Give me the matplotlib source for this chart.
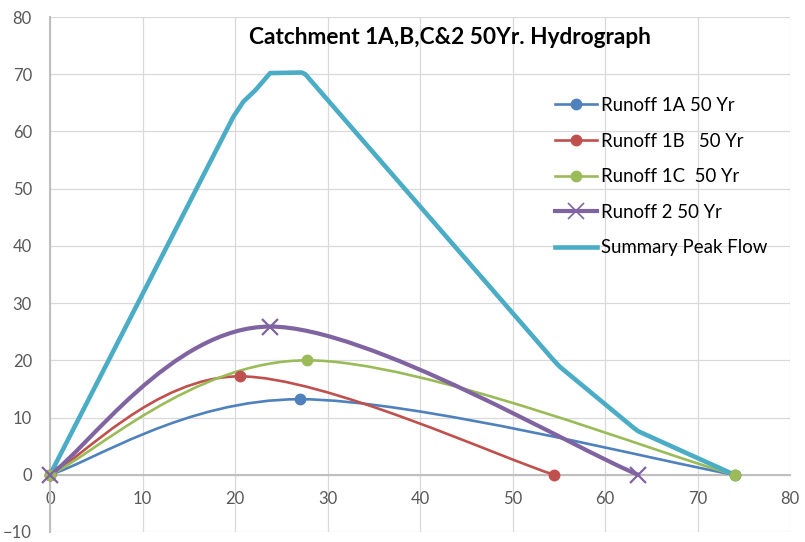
import numpy as np
import matplotlib
matplotlib.use("Agg")
import matplotlib.pyplot as plt
from matplotlib.path import Path
from matplotlib.patches import PathPatch
from matplotlib.lines import Line2D

plt.rcParams['font.family'] = ['Lato', 'DejaVu Sans']

# series (time, flow)
x_1a = [0, 27.0, 74.0]
y_1a = [0, 13.2, 0]
x_1b = [0, 20.5, 54.5]
y_1b = [0, 17.2, 0]
x_1c = [0, 27.8, 74.0]
y_1c = [0, 20.0, 0]
x_2 = [0, 23.8, 63.6]
y_2 = [0, 25.9, 0]
x_sum = [0, 19.8, 20.9, 22.2, 23.8, 27.2, 27.6, 54.4, 55.1, 63.1, 63.6, 74.0]
y_sum = [0, 62.5, 65.2, 67.2, 70.2, 70.3, 70.0, 20.1, 18.9, 8.2, 7.6, 0]

labels = ['Runoff 1A 50 Yr', 'Runoff 1B   50 Yr', 'Runoff 1C  50 Yr',
          'Runoff 2 50 Yr', 'Summary Peak Flow']
colors = ['#4F81BD', '#C0504D', '#9BBB59', '#8064A2', '#4BACC6']
title = 'Catchment 1A,B,C&2 50Yr. Hydrograph'


def smooth_path(xs, ys):
    # excel-like smoothed line: bezier segments through the points
    p = np.column_stack([xs, ys]).astype(float)
    n = len(p)
    verts = [p[0]]
    codes = [Path.MOVETO]
    for i in range(n - 1):
        p0 = p[i - 1] if i > 0 else p[i]
        p3 = p[i + 2] if i + 2 < n else p[i + 1]
        c1 = p[i] + (p[i + 1] - p0) / 6
        c2 = p[i + 1] - (p3 - p[i]) / 6
        verts += [c1, c2, p[i + 1]]
        codes += [Path.CURVE4] * 3
    return Path(verts, codes)


fig = plt.figure(figsize=(8.05, 5.42), dpi=100)
ax = fig.add_axes([50 / 805, 10 / 542, 740 / 805, 515 / 542])
ax.set_xlim(0, 80)
ax.set_ylim(-10, 80)
ax.set_xticks(range(0, 81, 10))
ax.set_yticks(range(-10, 81, 10))
ax.grid(True, color='#d9d9d9', lw=0.9)
ax.set_axisbelow(True)

for s in ['top', 'right']:
    ax.spines[s].set_visible(False)
ax.spines['bottom'].set_position(('data', 0))
ax.spines['bottom'].set_color('#bfbfbf')
ax.spines['bottom'].set_linewidth(1.5)
ax.spines['left'].set_color('#bfbfbf')
ax.spines['left'].set_linewidth(1.5)
ax.tick_params(length=0, labelsize=12, labelcolor='#595959')
ax.tick_params(axis='y', pad=13)
ax.tick_params(axis='x', pad=12)

series = [(x_1a, y_1a, 'o', 1.9), (x_1b, y_1b, 'o', 1.9), (x_1c, y_1c, 'o', 1.9),
          (x_2, y_2, 'x', 3.0)]
handles = []
for (xs, ys, m, lw), c, lab in zip(series, colors, labels):
    ax.add_patch(PathPatch(smooth_path(xs, ys), fill=False, edgecolor=c, lw=lw,
                           capstyle='round', zorder=3))
    if m == 'o':
        ax.plot(xs, ys, ls='none', marker='o', ms=7.5, color=c, zorder=4, clip_on=False)
        handles.append(Line2D([], [], color=c, lw=lw, marker='o', ms=7.5))
    else:
        ax.plot(xs, ys, ls='none', marker='x', ms=11, mew=1.6, color=c, zorder=4, clip_on=False)
        handles.append(Line2D([], [], color=c, lw=lw, marker='x', ms=11, mew=1.2))

ax.plot(x_sum, y_sum, color=colors[4], lw=3.3, solid_joinstyle='round', zorder=3)
handles.append(Line2D([], [], color=colors[4], lw=3.3))

ax.legend(handles, labels, loc='upper left', bbox_to_anchor=(555 / 805, 1 - 97 / 542),
          bbox_transform=fig.transFigure, frameon=False, fontsize=13.4,
          handlelength=2.25, handletextpad=0.2, labelspacing=1.0, borderpad=0,
          borderaxespad=0)

fig.text(450 / 805, 1 - 38 / 542, title, ha='center', va='center',
         fontsize=16.3, fontweight='bold')

fig.savefig('out.png', dpi=100)
